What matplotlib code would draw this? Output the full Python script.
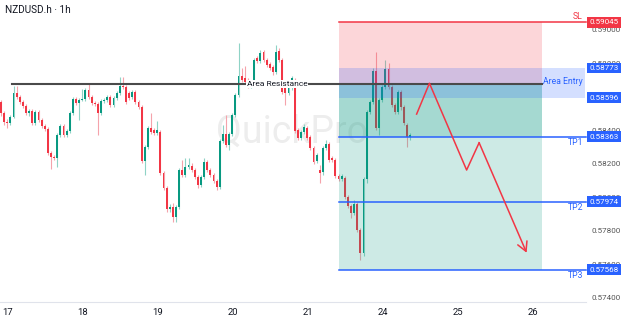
import matplotlib.pyplot as plt
import numpy as np
from matplotlib.transforms import blended_transform_factory

plt.rcParams['font.family'] = ['Roboto', 'DejaVu Sans']

# hourly candles, NZDUSD.h
opens = [0.58571, 0.58505, 0.58452, 0.58446, 0.58482, 0.58625, 0.58601, 0.58571, 0.58547, 0.58505,
         0.58517, 0.58446, 0.58511, 0.58464, 0.58428, 0.58410, 0.58267, 0.58243, 0.58237, 0.58374,
         0.58428, 0.58374, 0.58398, 0.58505, 0.58589, 0.58565, 0.58583, 0.58589, 0.58643, 0.58601,
         0.58565, 0.58559, 0.58505, 0.58577, 0.58583, 0.58601, 0.58553, 0.58595, 0.58625, 0.58667,
         0.58661, 0.58625, 0.58601, 0.58631, 0.58571, 0.58541, 0.58219, 0.58302, 0.58416, 0.58404,
         0.58386, 0.58392, 0.58147, 0.58058, 0.57932, 0.57944, 0.57885, 0.57944, 0.58165, 0.58135,
         0.58183, 0.58189, 0.58165, 0.58123, 0.58076, 0.58123, 0.58213, 0.58165, 0.58135, 0.58099,
         0.58064, 0.58338, 0.58380, 0.58314, 0.58380, 0.58493, 0.58613, 0.58726, 0.58714, 0.58702,
         0.58673, 0.58690, 0.58834, 0.58816, 0.58870, 0.58822, 0.58798, 0.58780, 0.58750, 0.58876,
         0.58822, 0.58673, 0.58625, 0.58655, 0.58702, 0.58404, 0.58356, 0.58392, 0.58416, 0.58362,
         0.58296, 0.58219, 0.58165, 0.58153, 0.58296, 0.58320, 0.58237, 0.58225, 0.58129, 0.58111,
         0.58117, 0.58004, 0.57950, 0.57908, 0.57962, 0.57807, 0.57670, 0.58111, 0.58511, 0.58571,
         0.58756, 0.58416, 0.58583, 0.58661, 0.58768, 0.58661, 0.58553, 0.58511, 0.58631, 0.58541,
         0.58434, 0.58362]
closes = [0.58505, 0.58452, 0.58446, 0.58482, 0.58625, 0.58601, 0.58571, 0.58547, 0.58505, 0.58517,
          0.58446, 0.58511, 0.58464, 0.58428, 0.58410, 0.58267, 0.58243, 0.58237, 0.58374, 0.58428,
          0.58374, 0.58398, 0.58505, 0.58589, 0.58565, 0.58583, 0.58589, 0.58643, 0.58601, 0.58565,
          0.58559, 0.58505, 0.58577, 0.58583, 0.58601, 0.58553, 0.58595, 0.58625, 0.58667, 0.58661,
          0.58571, 0.58595, 0.58631, 0.58571, 0.58541, 0.58219, 0.58302, 0.58416, 0.58392, 0.58386,
          0.58404, 0.58147, 0.58058, 0.57932, 0.57944, 0.57885, 0.57944, 0.58165, 0.58135, 0.58183,
          0.58195, 0.58165, 0.58123, 0.58076, 0.58123, 0.58213, 0.58165, 0.58135, 0.58099, 0.58064,
          0.58338, 0.58380, 0.58314, 0.58380, 0.58493, 0.58613, 0.58726, 0.58702, 0.58690, 0.58673,
          0.58690, 0.58822, 0.58816, 0.58864, 0.58822, 0.58792, 0.58774, 0.58750, 0.58870, 0.58822,
          0.58631, 0.58625, 0.58673, 0.58714, 0.58398, 0.58356, 0.58392, 0.58422, 0.58356, 0.58296,
          0.58213, 0.58255, 0.58147, 0.58296, 0.58320, 0.58225, 0.58225, 0.58129, 0.58111, 0.58129,
          0.58004, 0.57950, 0.57908, 0.57962, 0.57807, 0.57670, 0.58111, 0.58511, 0.58571, 0.58756,
          0.58416, 0.58583, 0.58661, 0.58768, 0.58661, 0.58553, 0.58511, 0.58631, 0.58541, 0.58446,
          0.58362, 0.58374]
highs = [0.58583, 0.58517, 0.58470, 0.58493, 0.58667, 0.58667, 0.58613, 0.58583, 0.58559, 0.58529,
         0.58529, 0.58523, 0.58523, 0.58476, 0.58440, 0.58422, 0.58279, 0.58255, 0.58386, 0.58440,
         0.58440, 0.58410, 0.58517, 0.58601, 0.58601, 0.58595, 0.58649, 0.58655, 0.58679, 0.58613,
         0.58577, 0.58571, 0.58589, 0.58595, 0.58613, 0.58613, 0.58607, 0.58637, 0.58720, 0.58720,
         0.58673, 0.58637, 0.58643, 0.58643, 0.58583, 0.58553, 0.58314, 0.58428, 0.58505, 0.58416,
         0.58458, 0.58404, 0.58159, 0.58070, 0.57962, 0.57968, 0.57956, 0.58177, 0.58225, 0.58237,
         0.58237, 0.58207, 0.58177, 0.58135, 0.58135, 0.58237, 0.58225, 0.58177, 0.58147, 0.58111,
         0.58350, 0.58434, 0.58493, 0.58392, 0.58505, 0.58625, 0.58923, 0.58774, 0.58786, 0.58714,
         0.58702, 0.58834, 0.58846, 0.58882, 0.58882, 0.58834, 0.58810, 0.58792, 0.58911, 0.58893,
         0.58834, 0.58684, 0.58684, 0.58726, 0.58714, 0.58416, 0.58404, 0.58440, 0.58428, 0.58374,
         0.58308, 0.58267, 0.58195, 0.58308, 0.58344, 0.58332, 0.58249, 0.58237, 0.58141, 0.58141,
         0.58129, 0.58016, 0.57962, 0.57986, 0.57974, 0.57819, 0.58123, 0.58523, 0.58583, 0.58774,
         0.58870, 0.58595, 0.58673, 0.58822, 0.58804, 0.58673, 0.58565, 0.58643, 0.58643, 0.58553,
         0.58446, 0.58386]
lows = [0.58487, 0.58434, 0.58416, 0.58434, 0.58476, 0.58589, 0.58559, 0.58535, 0.58493, 0.58487,
        0.58434, 0.58434, 0.58452, 0.58416, 0.58398, 0.58255, 0.58171, 0.58225, 0.58183, 0.58362,
        0.58362, 0.58362, 0.58386, 0.58493, 0.58553, 0.58464, 0.58577, 0.58577, 0.58589, 0.58553,
        0.58547, 0.58374, 0.58493, 0.58565, 0.58571, 0.58541, 0.58541, 0.58583, 0.58613, 0.58649,
        0.58559, 0.58583, 0.58589, 0.58559, 0.58529, 0.58207, 0.58135, 0.58290, 0.58380, 0.58374,
        0.58374, 0.58135, 0.58046, 0.57914, 0.57914, 0.57855, 0.57855, 0.57932, 0.58123, 0.58123,
        0.58171, 0.58153, 0.58111, 0.58058, 0.58064, 0.58111, 0.58153, 0.58123, 0.58087, 0.58046,
        0.58052, 0.58326, 0.58302, 0.58285, 0.58368, 0.58482, 0.58601, 0.58690, 0.58679, 0.58655,
        0.58655, 0.58679, 0.58804, 0.58804, 0.58810, 0.58780, 0.58762, 0.58732, 0.58738, 0.58810,
        0.58619, 0.58553, 0.58613, 0.58643, 0.58386, 0.58344, 0.58344, 0.58380, 0.58344, 0.58285,
        0.58201, 0.58207, 0.58087, 0.58135, 0.58285, 0.58213, 0.58213, 0.58117, 0.58099, 0.58099,
        0.57992, 0.57938, 0.57879, 0.57896, 0.57795, 0.57628, 0.57652, 0.58087, 0.58499, 0.58559,
        0.58404, 0.58374, 0.58571, 0.58649, 0.58649, 0.58541, 0.58499, 0.58499, 0.58523, 0.58434,
        0.58302, 0.58344]

day_labels = ['17', '18', '19', '20', '21', '24', '25', '26']
day_pos = [2.2, 26.2, 50.2, 74.2, 98.2, 122.2, 146.2, 170.2]
price_ticks = [0.574, 0.576, 0.578, 0.580, 0.582, 0.584, 0.586, 0.588, 0.590]

# trade setup
resistance = 0.58678
sl = 0.59045
entry_top = 0.58773
entry_bot = 0.58596
tps = [0.58363, 0.57974, 0.57568]
tp_names = ['TP1', 'TP2', 'TP3']
zone_start, zone_end, entry_end = 108.2, 173.1, 186.9
line_start = 3.5
label_x = 186.2

# projected path
path_x = [133.0, 137.1, 149.0, 153.0, 168.2]
path_y = [0.58498, 0.58682, 0.58164, 0.58327, 0.57670]

GREEN = '#089981'
RED = '#f23645'
BLUE = '#2962ff'

fig = plt.figure(figsize=(6.24, 3.17), dpi=100)
ax = fig.add_axes([0, 15 / 317, 586 / 624, 302 / 317])
xmin, xmax = -0.32, 187.2
ax.set_xlim(xmin, xmax)
ax.set_ylim(0.573761, 0.591791)

o = np.array(opens)
c = np.array(closes)
h = np.array(highs)
l = np.array(lows)
x = np.arange(len(o))
up = c >= o
bottom = np.minimum(o, c)
height = np.maximum(np.abs(c - o), 0.00002)

ax.vlines(x[up], l[up], h[up], color='#8fd3c6', lw=0.8, zorder=3)
ax.vlines(x[~up], l[~up], h[~up], color='#f5a3ab', lw=0.8, zorder=3)
ax.bar(x[up], height[up], bottom=bottom[up], width=0.62, color=GREEN, lw=0, zorder=4)
ax.bar(x[~up], height[~up], bottom=bottom[~up], width=0.62, color=RED, lw=0, zorder=4)

# watermark
ax.text(0.498, 0.527, 'QuickPro', transform=ax.transAxes, fontsize=27,
        color='black', alpha=0.07, ha='center', va='baseline', zorder=2)

# position zones
zx = [zone_start, zone_end]
ax.fill_between(zx, resistance, sl, color=RED, alpha=0.2, lw=0, zorder=5)
ax.fill_between(zx, tps[2], resistance, color=GREEN, alpha=0.2, lw=0, zorder=5)
ax.fill_between(zx, tps[0], resistance, color=GREEN, alpha=0.2, lw=0, zorder=5)
ax.fill_between([zone_start, entry_end], entry_bot, entry_top, color=BLUE, alpha=0.2, lw=0, zorder=5)

# resistance line
ax.plot([line_start, zone_end], [resistance, resistance], color='#4a4a4a', lw=1.5, zorder=6)
ax.text(88.3, resistance, 'Area Resistance', fontsize=6.0, color='#131722',
        ha='center', va='center', zorder=7,
        bbox=dict(boxstyle='square,pad=0.1', fc='white', ec='none'))

# SL and TP lines
ax.plot([zone_start, xmax], [sl, sl], color=RED, lw=1.1, zorder=6, clip_on=False)
ax.text(label_x, sl + 0.00006, 'SL', color=RED, fontsize=6.2, ha='right', va='bottom', zorder=7)
for tp, name in zip(tps, tp_names):
    ax.plot([zone_start, xmax], [tp, tp], color=BLUE, lw=1.1, zorder=6, clip_on=False)
    ax.text(label_x, tp - 0.00009, name, color=BLUE, fontsize=6.2, ha='right', va='top', zorder=7)
ax.text(label_x, (entry_top + entry_bot) / 2 + 0.00006, 'Area Entry', color=BLUE,
        fontsize=6.2, ha='right', va='center', zorder=7)

# path arrow
ax.plot(path_x[:-1], path_y[:-1], color=RED, lw=1.1, zorder=8)
ax.annotate('', xy=(path_x[-1], path_y[-1]), xytext=(path_x[-2], path_y[-2]),
            arrowprops=dict(arrowstyle='->,head_length=0.55,head_width=0.3', color=RED,
                            lw=1.1, shrinkA=0, shrinkB=0, mutation_scale=12), zorder=8)

# axes
ax.set_xticks(day_pos, day_labels)
ax.set_yticks(price_ticks, [f'{p:.5f}' for p in price_ticks])
ax.yaxis.tick_right()
ax.tick_params(axis='y', length=0, pad=4, labelsize=5.8, labelcolor='#555555')
ax.tick_params(axis='x', length=0, pad=4, labelsize=6.8, labelcolor='#131722')
for side in ['top', 'left', 'right']:
    ax.spines[side].set_visible(False)
ax.spines['bottom'].set_color('#e0e3eb')

# price labels on the scale
trans = blended_transform_factory(ax.transAxes, ax.transData)
for val, col in [(sl, RED), (entry_top, BLUE), (entry_bot, BLUE)] + [(t, BLUE) for t in tps]:
    ax.text(1.006, val, f'{val:.5f}', transform=trans, fontsize=5.8, color='white',
            ha='left', va='center', zorder=10,
            bbox=dict(boxstyle='square,pad=0.3', fc=col, ec='none'))

fig.text(5 / 624, 1 - 10 / 317, 'NZDUSD.h · 1h', fontsize=7.2, va='center', color='#131722')

fig.savefig('out.png', dpi=100)
